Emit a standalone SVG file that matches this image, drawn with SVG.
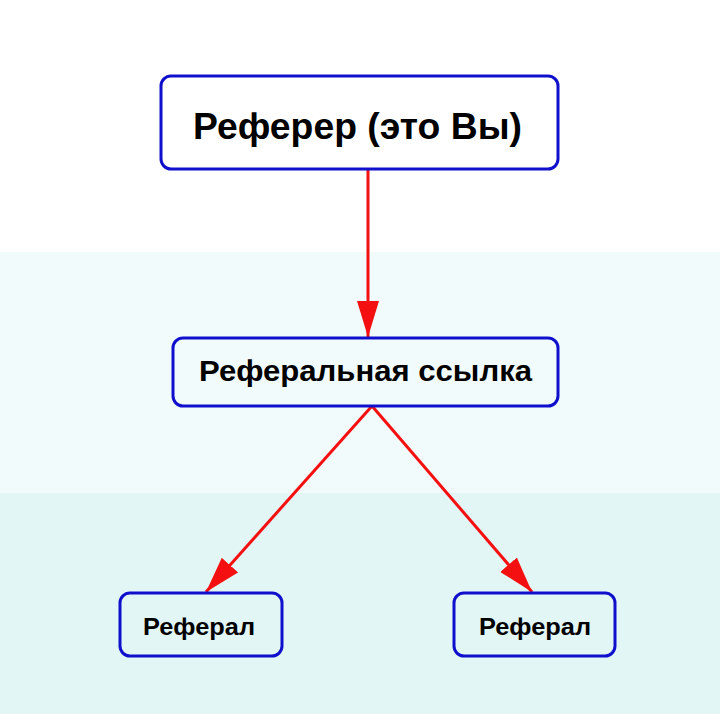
<svg xmlns="http://www.w3.org/2000/svg" width="720" height="714" viewBox="0 0 720 714">
<style>
.box{stroke:#1010cc;stroke-width:3}
.t{font-family:"Liberation Sans",Arial,sans-serif;font-weight:bold;fill:#000;text-anchor:middle}
.c{stroke:#f41010;stroke-width:3;fill:none}
</style>
<defs>
<marker id="ah" markerUnits="userSpaceOnUse" markerWidth="38" markerHeight="22" refX="36" refY="11" orient="auto">
<path d="M0,0 L36,11 L0,22 z" fill="#f41010"/>
</marker>
</defs>
<rect x="0" y="0" width="720" height="252" fill="#ffffff"/>
<rect x="0" y="252" width="720" height="241" fill="#f2fbfb"/>
<rect x="0" y="493" width="720" height="221" fill="#e3f6f6"/>
<g id="connectors">
<line class="c" x1="368" y1="170" x2="368" y2="337" marker-end="url(#ah)"/>
<line class="c" x1="372" y1="406" x2="206" y2="592" marker-end="url(#ah)"/>
<line class="c" x1="372" y1="406" x2="532" y2="592" marker-end="url(#ah)"/>
</g>
<g id="referrer">
<rect class="box" x="161" y="76" width="397" height="93" rx="10" fill="#ffffff"/>
<text class="t" x="357.5" y="139" font-size="36" textLength="329" lengthAdjust="spacingAndGlyphs">Реферер (это Вы)</text>
</g>
<g id="link">
<rect class="box" x="173" y="338" width="385" height="68" rx="10" fill="#f2fbfb"/>
<text class="t" x="365.5" y="381" font-size="29" textLength="333" lengthAdjust="spacingAndGlyphs">Реферальная ссылка</text>
</g>
<g id="referral1">
<rect class="box" x="120" y="593" width="162" height="63" rx="10" fill="#e3f6f6"/>
<text class="t" x="199" y="635" font-size="23" textLength="112" lengthAdjust="spacingAndGlyphs">Реферал</text>
</g>
<g id="referral2">
<rect class="box" x="454" y="593" width="161" height="63" rx="10" fill="#e3f6f6"/>
<text class="t" x="535" y="635" font-size="23" textLength="112" lengthAdjust="spacingAndGlyphs">Реферал</text>
</g>
</svg>
